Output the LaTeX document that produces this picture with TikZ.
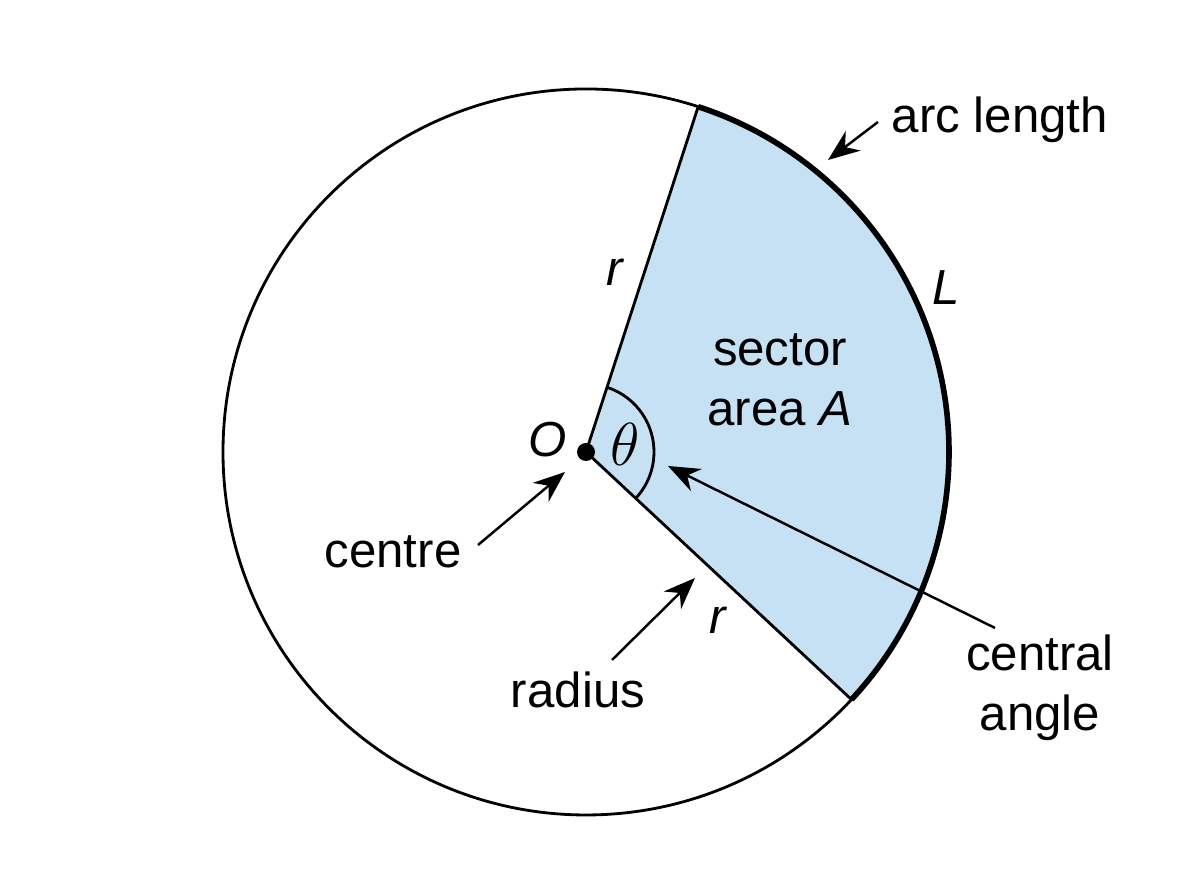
\documentclass[tikz,border=0pt]{standalone}
\usepackage{fontspec}
\setmainfont{Liberation Sans}
\usetikzlibrary{arrows.meta}
\definecolor{sec}{HTML}{C5E1F3}
\begin{document}
\begin{tikzpicture}[x=1cm,y=1cm,
  lbl/.style={font=\fontsize{14}{17}\selectfont, align=center},
  arr/.style={-{Stealth[length=9pt,width=7pt]}, line width=0.7pt}]
\useasboundingbox (0,0) rectangle (12,8.96);
\coordinate (O) at (5.86,4.44);
\def\R{3.63}
\fill[sec] (O) -- ++(72:\R) arc[start angle=72,end angle=-43,radius=\R] -- cycle;
\draw[line width=0.8pt] (O) circle[radius=\R];
\draw[line width=0.8pt] (O) -- ++(72:\R) coordinate (P1);
\draw[line width=0.8pt] (O) -- ++(-43:\R) coordinate (P2);
\draw[line width=1.6pt] (O) ++(72:\R) arc[start angle=72,end angle=-43,radius=\R];
\draw[line width=0.8pt] (O) ++(72:0.68) arc[start angle=72,end angle=-43,radius=0.68];
\fill (O) circle[radius=0.09];
\node[lbl] (al) at (10.0,7.76) {arc length};
\coordinate (alt) at (8.28,7.36);
\draw[arr] (8.78,7.74) -- (alt);
\node[lbl] (L) at (9.46,6.08) {\itshape L};
\node[lbl] (r1) at (6.15,6.24) {\itshape r};
\node[lbl] (r2) at (7.18,2.76) {\itshape r};
\node[lbl] (sa) at (7.80,5.16) {sector\\area \itshape A};
\node[font=\fontsize{17}{20}\selectfont] (th) at (6.25,4.52) {$\theta$};
\node[lbl] (o) at (5.48,4.56) {\itshape O};
\node[lbl] (ce) at (3.93,3.44) {centre};
\coordinate (cet) at (5.65,4.24);
\draw[arr] (4.78,3.51) -- (cet);
\node[lbl] (ra) at (5.78,2.06) {radius};
\coordinate (rat) at (6.95,3.18);
\draw[arr] (6.12,2.36) -- (rat);
\node[lbl] (ca) at (10.4,2.08) {central\\angle};
\coordinate (cat) at (6.68,4.30);
\draw[arr] (9.95,2.68) -- (cat);
\end{tikzpicture}
\end{document}
